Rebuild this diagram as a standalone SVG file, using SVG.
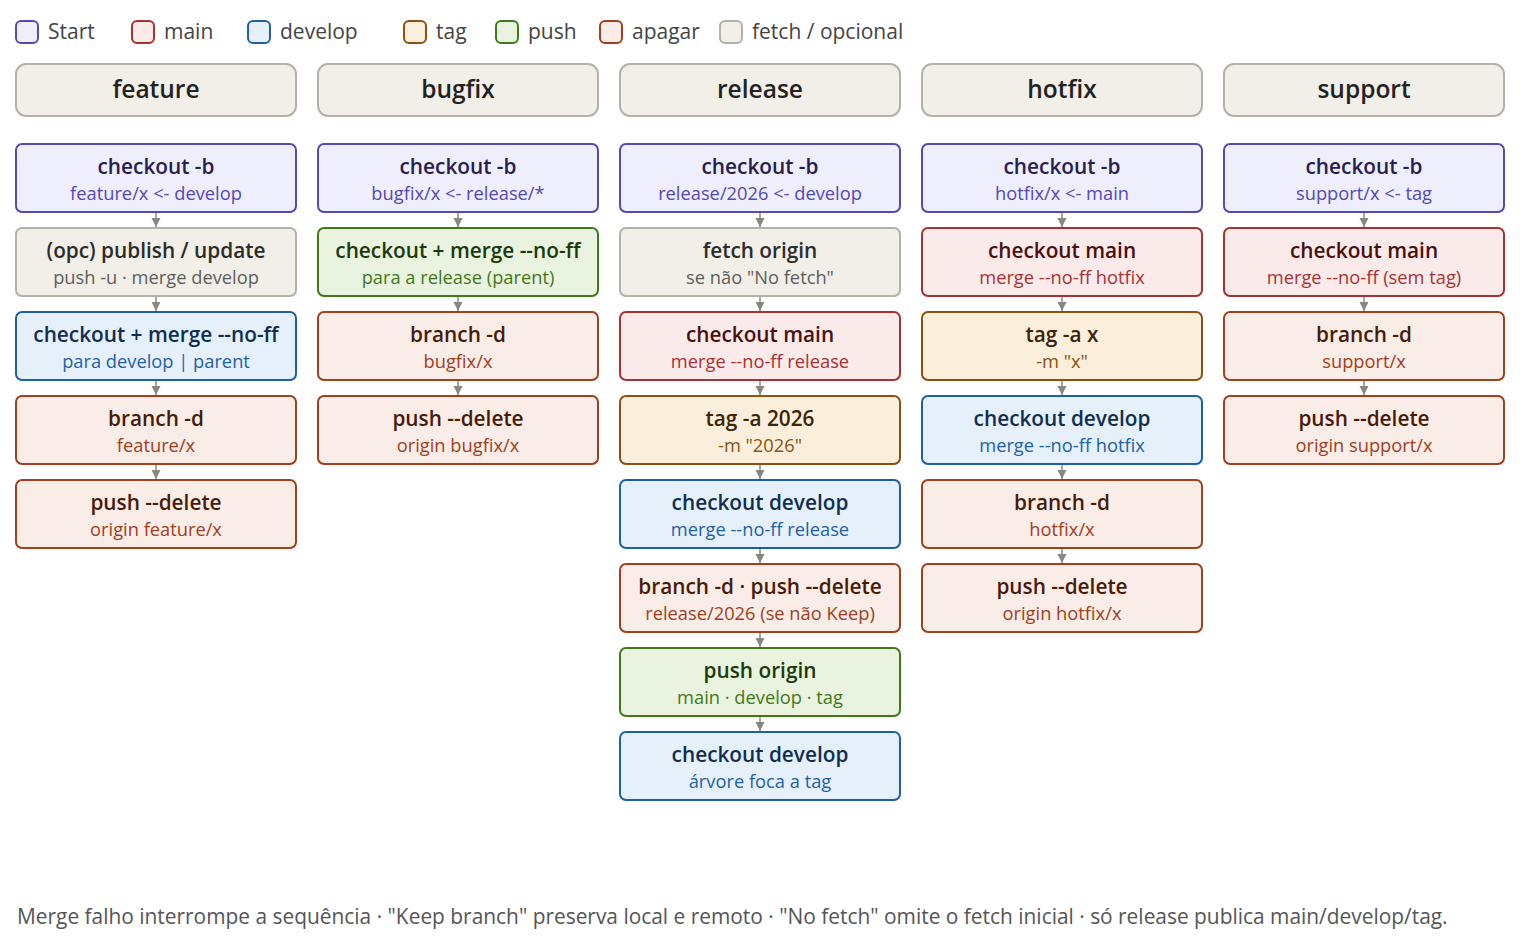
<svg xmlns="http://www.w3.org/2000/svg" width="1520" height="952" viewBox="0 0 1520 952">
<style>
text{font-family:"Open Sans","Noto Sans","Liberation Sans",sans-serif}
.lg{font-size:21px;fill:#444}
.hd rect{fill:#f1efe8;stroke:#b4b1a8;stroke-width:2}
.hd text{font-size:24.5px;font-weight:600;fill:#222;text-anchor:middle}
.n rect{stroke-width:2}
.n .t{font-size:20.8px;font-weight:600;text-anchor:middle}
.n .s{font-size:18.3px;text-anchor:middle}
.st rect{fill:#eeeefc;stroke:#5548b8}.st .t{fill:#26204f}.st .s{fill:#5548b8}
.mn rect{fill:#fbeaea;stroke:#a83232}.mn .t{fill:#4a1010}.mn .s{fill:#a83232}
.dv rect{fill:#e6f0fa;stroke:#1f5fa8}.dv .t{fill:#0f2e50}.dv .s{fill:#1f5fa8}
.tg rect{fill:#fbeedb;stroke:#8a5210}.tg .t{fill:#3c2408}.tg .s{fill:#8a5210}
.ps rect{fill:#eaf3df;stroke:#3f7a1a}.ps .t{fill:#1c3a0a}.ps .s{fill:#3f7a1a}
.dl rect{fill:#faece6;stroke:#a0401f}.dl .t{fill:#4a1a08}.dl .s{fill:#a0401f}
.ft rect{fill:#f1efe8;stroke:#b4b1a8}.ft .t{fill:#2c2c2a}.ft .s{fill:#5f5e5a}
.c line{stroke:#888780;stroke-width:1.5}
.foot{font-size:20.9px;fill:#555}
</style>
<defs>
<marker id="ah" viewBox="0 0 10 10" refX="10" refY="5" markerWidth="9" markerHeight="10" markerUnits="userSpaceOnUse" orient="auto"><path d="M0,0L10,5L0,10z" fill="#888780"/></marker>
</defs>
<g id="legend">
<rect x="16" y="21" width="22" height="22" rx="5" fill="#eeeefc" stroke="#5548b8" stroke-width="2"/><text class="lg" x="48" y="39">Start</text>
<rect x="132" y="21" width="22" height="22" rx="5" fill="#fbeaea" stroke="#a83232" stroke-width="2"/><text class="lg" x="164" y="39">main</text>
<rect x="248" y="21" width="22" height="22" rx="5" fill="#e6f0fa" stroke="#1f5fa8" stroke-width="2"/><text class="lg" x="280" y="39">develop</text>
<rect x="404" y="21" width="22" height="22" rx="5" fill="#fbeedb" stroke="#8a5210" stroke-width="2"/><text class="lg" x="436" y="39">tag</text>
<rect x="496" y="21" width="22" height="22" rx="5" fill="#eaf3df" stroke="#3f7a1a" stroke-width="2"/><text class="lg" x="528" y="39">push</text>
<rect x="600" y="21" width="22" height="22" rx="5" fill="#faece6" stroke="#a0401f" stroke-width="2"/><text class="lg" x="632" y="39">apagar</text>
<rect x="720" y="21" width="22" height="22" rx="5" fill="#f1efe8" stroke="#b4b1a8" stroke-width="2"/><text class="lg" x="752" y="39">fetch / opcional</text>
</g>
<g id="headers" class="hd">
<g id="h-feature"><rect x="16" y="64" width="280" height="52" rx="10"/><text x="156" y="98">feature</text></g>
<g id="h-bugfix"><rect x="318" y="64" width="280" height="52" rx="10"/><text x="458" y="98">bugfix</text></g>
<g id="h-release"><rect x="620" y="64" width="280" height="52" rx="10"/><text x="760" y="98">release</text></g>
<g id="h-hotfix"><rect x="922" y="64" width="280" height="52" rx="10"/><text x="1062" y="98">hotfix</text></g>
<g id="h-support"><rect x="1224" y="64" width="280" height="52" rx="10"/><text x="1364" y="98">support</text></g>
</g>
<g id="connectors" class="c">
<line x1="156" y1="213" x2="156" y2="227" marker-end="url(#ah)"/>
<line x1="156" y1="297" x2="156" y2="311" marker-end="url(#ah)"/>
<line x1="156" y1="381" x2="156" y2="395" marker-end="url(#ah)"/>
<line x1="156" y1="465" x2="156" y2="479" marker-end="url(#ah)"/>
<line x1="458" y1="213" x2="458" y2="227" marker-end="url(#ah)"/>
<line x1="458" y1="297" x2="458" y2="311" marker-end="url(#ah)"/>
<line x1="458" y1="381" x2="458" y2="395" marker-end="url(#ah)"/>
<line x1="760" y1="213" x2="760" y2="227" marker-end="url(#ah)"/>
<line x1="760" y1="297" x2="760" y2="311" marker-end="url(#ah)"/>
<line x1="760" y1="381" x2="760" y2="395" marker-end="url(#ah)"/>
<line x1="760" y1="465" x2="760" y2="479" marker-end="url(#ah)"/>
<line x1="760" y1="549" x2="760" y2="563" marker-end="url(#ah)"/>
<line x1="760" y1="633" x2="760" y2="647" marker-end="url(#ah)"/>
<line x1="760" y1="717" x2="760" y2="731" marker-end="url(#ah)"/>
<line x1="1062" y1="213" x2="1062" y2="227" marker-end="url(#ah)"/>
<line x1="1062" y1="297" x2="1062" y2="311" marker-end="url(#ah)"/>
<line x1="1062" y1="381" x2="1062" y2="395" marker-end="url(#ah)"/>
<line x1="1062" y1="465" x2="1062" y2="479" marker-end="url(#ah)"/>
<line x1="1062" y1="549" x2="1062" y2="563" marker-end="url(#ah)"/>
<line x1="1364" y1="213" x2="1364" y2="227" marker-end="url(#ah)"/>
<line x1="1364" y1="297" x2="1364" y2="311" marker-end="url(#ah)"/>
<line x1="1364" y1="381" x2="1364" y2="395" marker-end="url(#ah)"/>
</g>
<g id="feature">
<g id="f1" class="n st"><rect x="16" y="144" width="280" height="68" rx="6"/><text class="t" x="156" y="174">checkout -b</text><text class="s" x="156" y="200">feature/x &lt;- develop</text></g>
<g id="f2" class="n ft"><rect x="16" y="228" width="280" height="68" rx="6"/><text class="t" x="156" y="258">(opc) publish / update</text><text class="s" x="156" y="284">push -u · merge develop</text></g>
<g id="f3" class="n dv"><rect x="16" y="312" width="280" height="68" rx="6"/><text class="t" x="156" y="342">checkout + merge --no-ff</text><text class="s" x="156" y="368">para develop | parent</text></g>
<g id="f4" class="n dl"><rect x="16" y="396" width="280" height="68" rx="6"/><text class="t" x="156" y="426">branch -d</text><text class="s" x="156" y="452">feature/x</text></g>
<g id="f5" class="n dl"><rect x="16" y="480" width="280" height="68" rx="6"/><text class="t" x="156" y="510">push --delete</text><text class="s" x="156" y="536">origin feature/x</text></g>
</g>
<g id="bugfix">
<g id="b1" class="n st"><rect x="318" y="144" width="280" height="68" rx="6"/><text class="t" x="458" y="174">checkout -b</text><text class="s" x="458" y="200">bugfix/x &lt;- release/*</text></g>
<g id="b2" class="n ps"><rect x="318" y="228" width="280" height="68" rx="6"/><text class="t" x="458" y="258">checkout + merge --no-ff</text><text class="s" x="458" y="284">para a release (parent)</text></g>
<g id="b3" class="n dl"><rect x="318" y="312" width="280" height="68" rx="6"/><text class="t" x="458" y="342">branch -d</text><text class="s" x="458" y="368">bugfix/x</text></g>
<g id="b4" class="n dl"><rect x="318" y="396" width="280" height="68" rx="6"/><text class="t" x="458" y="426">push --delete</text><text class="s" x="458" y="452">origin bugfix/x</text></g>
</g>
<g id="release">
<g id="r1" class="n st"><rect x="620" y="144" width="280" height="68" rx="6"/><text class="t" x="760" y="174">checkout -b</text><text class="s" x="760" y="200">release/2026 &lt;- develop</text></g>
<g id="r2" class="n ft"><rect x="620" y="228" width="280" height="68" rx="6"/><text class="t" x="760" y="258">fetch origin</text><text class="s" x="760" y="284">se não "No fetch"</text></g>
<g id="r3" class="n mn"><rect x="620" y="312" width="280" height="68" rx="6"/><text class="t" x="760" y="342">checkout main</text><text class="s" x="760" y="368">merge --no-ff release</text></g>
<g id="r4" class="n tg"><rect x="620" y="396" width="280" height="68" rx="6"/><text class="t" x="760" y="426">tag -a 2026</text><text class="s" x="760" y="452">-m "2026"</text></g>
<g id="r5" class="n dv"><rect x="620" y="480" width="280" height="68" rx="6"/><text class="t" x="760" y="510">checkout develop</text><text class="s" x="760" y="536">merge --no-ff release</text></g>
<g id="r6" class="n dl"><rect x="620" y="564" width="280" height="68" rx="6"/><text class="t" x="760" y="594">branch -d · push --delete</text><text class="s" x="760" y="620">release/2026 (se não Keep)</text></g>
<g id="r7" class="n ps"><rect x="620" y="648" width="280" height="68" rx="6"/><text class="t" x="760" y="678">push origin</text><text class="s" x="760" y="704">main · develop · tag</text></g>
<g id="r8" class="n dv"><rect x="620" y="732" width="280" height="68" rx="6"/><text class="t" x="760" y="762">checkout develop</text><text class="s" x="760" y="788">árvore foca a tag</text></g>
</g>
<g id="hotfix">
<g id="x1" class="n st"><rect x="922" y="144" width="280" height="68" rx="6"/><text class="t" x="1062" y="174">checkout -b</text><text class="s" x="1062" y="200">hotfix/x &lt;- main</text></g>
<g id="x2" class="n mn"><rect x="922" y="228" width="280" height="68" rx="6"/><text class="t" x="1062" y="258">checkout main</text><text class="s" x="1062" y="284">merge --no-ff hotfix</text></g>
<g id="x3" class="n tg"><rect x="922" y="312" width="280" height="68" rx="6"/><text class="t" x="1062" y="342">tag -a x</text><text class="s" x="1062" y="368">-m "x"</text></g>
<g id="x4" class="n dv"><rect x="922" y="396" width="280" height="68" rx="6"/><text class="t" x="1062" y="426">checkout develop</text><text class="s" x="1062" y="452">merge --no-ff hotfix</text></g>
<g id="x5" class="n dl"><rect x="922" y="480" width="280" height="68" rx="6"/><text class="t" x="1062" y="510">branch -d</text><text class="s" x="1062" y="536">hotfix/x</text></g>
<g id="x6" class="n dl"><rect x="922" y="564" width="280" height="68" rx="6"/><text class="t" x="1062" y="594">push --delete</text><text class="s" x="1062" y="620">origin hotfix/x</text></g>
</g>
<g id="support">
<g id="s1" class="n st"><rect x="1224" y="144" width="280" height="68" rx="6"/><text class="t" x="1364" y="174">checkout -b</text><text class="s" x="1364" y="200">support/x &lt;- tag</text></g>
<g id="s2" class="n mn"><rect x="1224" y="228" width="280" height="68" rx="6"/><text class="t" x="1364" y="258">checkout main</text><text class="s" x="1364" y="284">merge --no-ff (sem tag)</text></g>
<g id="s3" class="n dl"><rect x="1224" y="312" width="280" height="68" rx="6"/><text class="t" x="1364" y="342">branch -d</text><text class="s" x="1364" y="368">support/x</text></g>
<g id="s4" class="n dl"><rect x="1224" y="396" width="280" height="68" rx="6"/><text class="t" x="1364" y="426">push --delete</text><text class="s" x="1364" y="452">origin support/x</text></g>
</g>
<text class="foot" x="17" y="924">Merge falho interrompe a sequência · "Keep branch" preserva local e remoto · "No fetch" omite o fetch inicial · só release publica main/develop/tag.</text>
</svg>
